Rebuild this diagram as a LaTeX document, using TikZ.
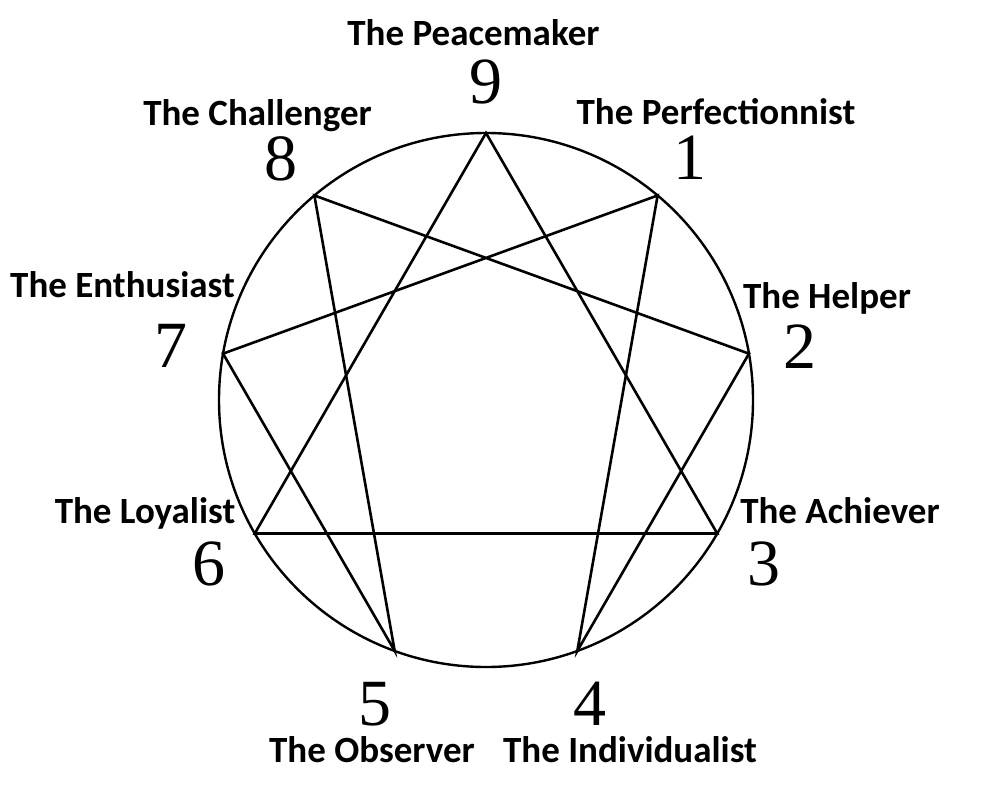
\documentclass[tikz,border=0pt]{standalone}
\usepackage{fontspec}
\setmainfont{Carlito}
\newfontfamily\digitfont{Liberation Serif}
\usetikzlibrary{calc}
\begin{document}
\begin{tikzpicture}[x=1pt,y=-1pt,
  lbl/.style={anchor=base,inner sep=0pt,font=\bfseries\fontsize{37}{38}\selectfont},
  num/.style={anchor=base,inner sep=0pt,font=\digitfont\fontsize{66}{66}\selectfont},
  edge/.style={line width=2.6pt,line join=miter}]
\useasboundingbox[fill=white] (0,0) rectangle (982,800);
\coordinate (c) at (486,400);
\draw[line width=2.4pt] (c) circle[radius=267];
\foreach \i in {0,...,8}{
  \coordinate (p\i) at ($(c)+({267*sin(40*\i)},{-267*cos(40*\i)})$);
}
\draw[edge] (p0) -- (p3) -- (p6) -- cycle;
\draw[edge] (p1) -- (p4) -- (p2) -- (p8) -- (p5) -- (p7) -- cycle;
% labels
\node[lbl] (l9) at (473.5,46) {The Peacemaker};
\node[num] (n9) at (486,103) {9};
\node[lbl] (l8) at (257.5,125) {The Challenger};
\node[num] (n8) at (281,180) {8};
\node[lbl] (l1) at (716,124) {The Perfectionnist};
\node[num] (n1) at (690,179) {1};
\node[lbl] (l7) at (122.5,297) {The Enthusiast};
\node[num] (n7) at (171,367) {7};
\node[lbl] (l2) at (827,308) {The Helper};
\node[num] (n2) at (800,368) {2};
\node[lbl] (l6) at (145,523) {The Loyalist};
\node[num] (n6) at (209,585) {6};
\node[lbl] (l3) at (840,523) {The Achiever};
\node[num] (n3) at (764,585) {3};
\node[num] (n5) at (375,725) {5};
\node[num] (n4) at (590,725) {4};
\node[lbl] (l5) at (372,762) {The Observer};
\node[lbl] (l4) at (630,762) {The Individualist};
\end{tikzpicture}
\end{document}
